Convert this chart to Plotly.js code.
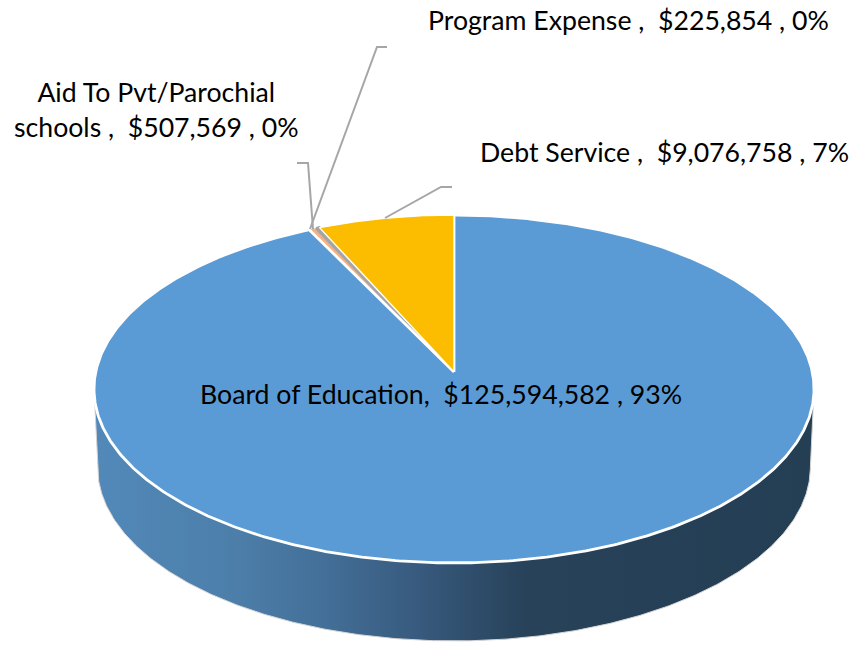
<!DOCTYPE html>
<html>
<head>
<meta charset="utf-8">
<script src="https://cdn.plot.ly/plotly-3.0.1.min.js"></script>
<style>html,body{margin:0;padding:0;background:#fff}#chart{width:850px;height:645px}</style>
</head>
<body>
<div id="chart"></div>
<script>
// Data
const categories = ['Board of Education', 'Aid To Pvt/Parochial schools', 'Program Expense', 'Debt Service'];
const amounts = [125594582, 507569, 225854, 9076758];
const percents = [93, 0, 0, 7];
const sliceColors = ['#5B9BD5', '#F4B183', '#A5A5A5', '#FCBD00'];
const sliceBorders = ['#ffffff', '#F4B183', '#A5A5A5', '#ffffff'];
const sliceLines = [2.8, 0.2, 2.8, 1.4];
const drawOrder = [1, 2, 0, 3];

// Tilted-disc projection onto the plot's pixel-scaled axes
const cx = 454, apexY = 372, R = 358.3, B = 172.3, P = 0.0977, depth = 78;
const total = amounts.reduce((a, b) => a + b, 0);
function project(deg) {
  const t = deg * Math.PI / 180, X = Math.sin(t), Y = Math.cos(t), w = 1 + P * Y;
  return [cx + R * X / w, apexY - B * Y / w];
}
function arc(a0, a1) {
  const n = Math.max(2, Math.ceil(Math.abs(a1 - a0) * 2)), pts = [];
  for (let i = 0; i <= n; i++) pts.push(project(a0 + (a1 - a0) * i / n));
  return pts;
}

const traces = [];
// Side wall
const tan = Math.acos(-P) * 180 / Math.PI;
const topEdge = arc(tan, 360 - tan);
const botEdge = topEdge.slice().reverse().map(p => [cx + (p[0] - cx) * 0.99, p[1] + depth]);
const wall = topEdge.concat(botEdge);
wall.push(wall[0]);
traces.push({
  type: 'scatter', mode: 'lines', x: wall.map(p => p[0]), y: wall.map(p => p[1]),
  fill: 'toself', hoverinfo: 'skip', showlegend: false,
  line: {color: '#d4d4d4', width: 1},
  fillgradient: {
    type: 'horizontal', start: 94, stop: 814,
    colorscale: [[0, '#5289B9'], [0.2, '#4C7EA9'], [0.32, '#436F98'], [0.45, '#385A7E'], [0.6, '#274259'], [1, '#243E54']]
  }
});
// Top face
const starts = amounts.map((v, i) => amounts.slice(0, i).reduce((a, b) => a + b, 0));
drawOrder.forEach(i => {
  const a0 = starts[i] / total * 360, a1 = (starts[i] + amounts[i]) / total * 360;
  const pts = [[cx, apexY]].concat(arc(a0, a1), [[cx, apexY]]);
  traces.push({
    type: 'scatter', mode: 'lines', x: pts.map(p => p[0]), y: pts.map(p => p[1]),
    fill: 'toself', fillcolor: sliceColors[i], hoverinfo: 'skip', showlegend: false,
    name: categories[i], line: {color: sliceBorders[i], width: sliceLines[i]}
  });
});
// Leader lines
const leaders = [
  [[313, 229], [308, 163], [297, 163]],
  [[310, 229], [377, 47], [387, 47]],
  [[385, 218], [441, 187], [452, 187]]
];
leaders.forEach(l => traces.push({
  type: 'scatter', mode: 'lines', x: l.map(p => p[0]), y: l.map(p => p[1]),
  hoverinfo: 'skip', showlegend: false, line: {color: '#A6A6A6', width: 2}
}));

const money = v => '$' + v.toLocaleString('en-US');
const fontStyle = {family: 'Lato, "Open Sans", sans-serif', size: 26.67, color: '#000000'};
const labelAt = [
  {x: 441, y: 394, text: `${categories[0]},  ${money(amounts[0])} , ${percents[0]}%`},
  {x: 156, y: 109, text: `Aid To Pvt/Parochial<br>schools ,  ${money(amounts[1])} , ${percents[1]}%`},
  {x: 628, y: 20, text: `${categories[2]} ,  ${money(amounts[2])} , ${percents[2]}%`},
  {x: 664, y: 152, text: `${categories[3]} ,  ${money(amounts[3])} , ${percents[3]}%`}
];

Plotly.newPlot('chart', traces, {
  width: 850, height: 645,
  margin: {l: 0, r: 0, t: 0, b: 0},
  paper_bgcolor: '#ffffff', plot_bgcolor: '#ffffff',
  showlegend: false,
  xaxis: {range: [0, 850], visible: false, fixedrange: true},
  yaxis: {range: [645, 0], visible: false, fixedrange: true},
  annotations: labelAt.map(a => ({
    x: a.x, y: a.y, xref: 'x', yref: 'y', text: a.text, showarrow: false,
    xanchor: 'center', yanchor: 'middle', align: 'center', font: fontStyle
  }))
}, {displayModeBar: false, staticPlot: true});
</script>
</body>
</html>
